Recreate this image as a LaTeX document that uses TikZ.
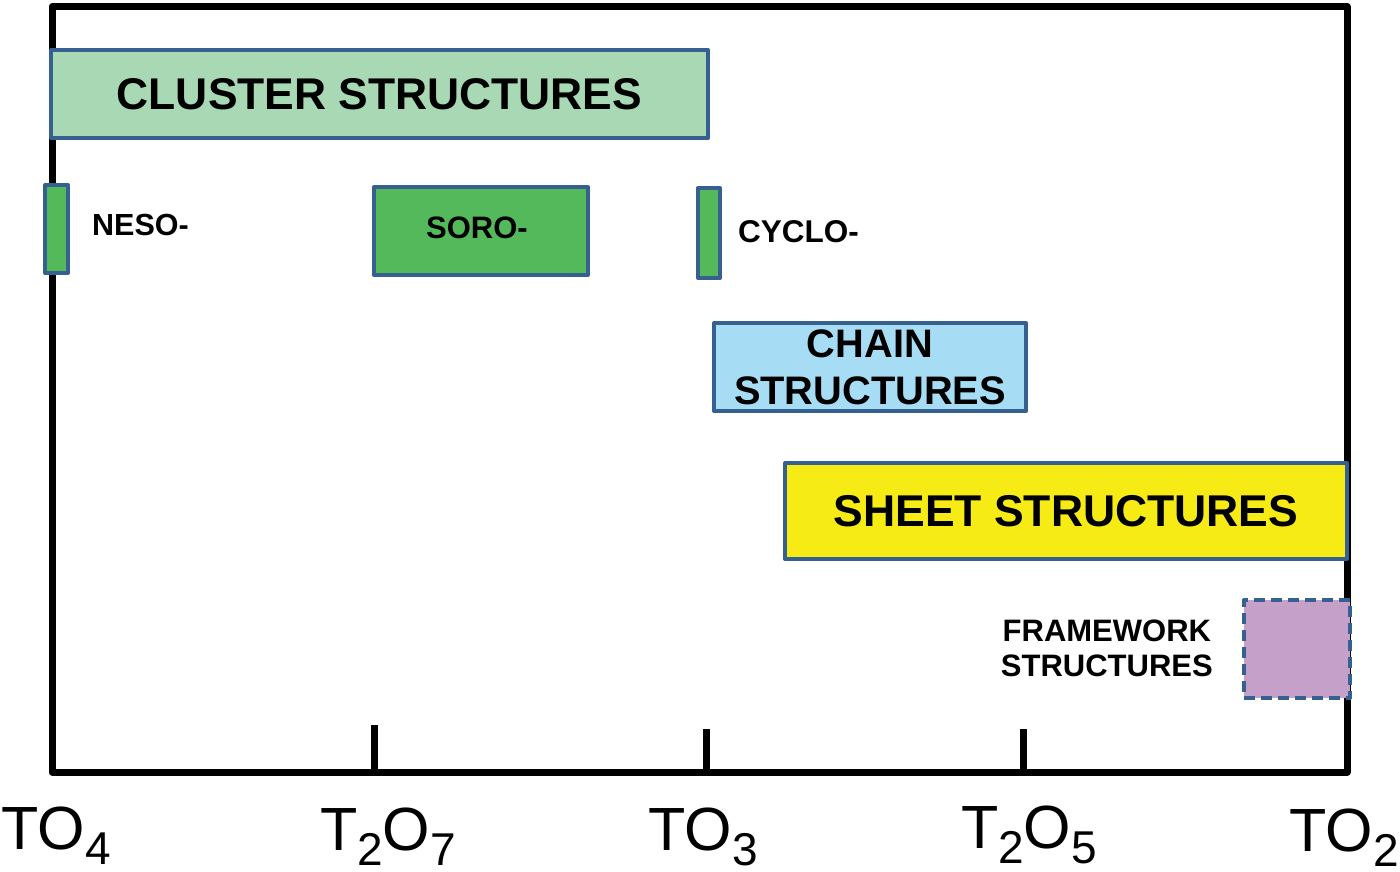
\documentclass[tikz,border=0pt]{standalone}
\usepackage{fontspec}
\setmainfont{Liberation Sans}
\definecolor{bordc}{HTML}{35608F}
\definecolor{clusterc}{HTML}{A8D9B4}
\definecolor{greenc}{HTML}{53B95A}
\definecolor{chainc}{HTML}{A6DDF5}
\definecolor{sheetc}{HTML}{F7EB15}
\definecolor{framec}{HTML}{C5A1CA}
\newcommand\fsz[2]{\fontsize{#1}{#2}\selectfont}
\newcommand\axlab[2]{#1\raisebox{-15pt}{\fsz{46}{50}#2}}
\begin{document}
\begin{tikzpicture}[x=1pt,y=-1pt,
  framestyle/.style={line width=7pt, black, line join=round},
  box/.style={draw=bordc, line width=4pt, rectangle, inner sep=0pt, anchor=north west, line join=round},
  lab/.style={inner sep=0pt, text=black},
  axis/.style={inner sep=0pt, anchor=base, font=\fsz{61}{70}}]
\useasboundingbox (0,0) rectangle (1400,871);
% frame and ticks
\draw[framestyle] (52,6.5) rectangle (1347,772);
\coordinate (t1b) at (374,772); \coordinate (t1t) at (374,725);
\coordinate (t2b) at (706,772); \coordinate (t2t) at (706,729);
\coordinate (t3b) at (1023,772); \coordinate (t3t) at (1023,729);
\draw[framestyle] (t1b) -- (t1t);
\draw[framestyle] (t2b) -- (t2t);
\draw[framestyle] (t3b) -- (t3t);
% boxes
\node[box, fill=clusterc, minimum width=657pt, minimum height=88pt, font=\bfseries\fsz{44.4}{50}] (cluster) at (49,48) {\raisebox{-1pt}{CLUSTER STRUCTURES}};
\node[box, fill=greenc, minimum width=23pt, minimum height=88pt] (neso) at (43,183) {};
\node[box, fill=greenc, minimum width=214pt, minimum height=88pt, font=\bfseries\fsz{31}{34}] (soro) at (372,185) {\raisebox{6pt}{\hspace*{-8pt}SORO-}};
\node[box, fill=greenc, minimum width=22pt, minimum height=90pt] (cyclo) at (696,186) {};
\node[box, fill=chainc, minimum width=312pt, minimum height=88pt, align=center, font=\bfseries\fsz{39.8}{47}] (chain) at (712,321) {CHAIN\\STRUCTURES};
\node[box, fill=sheetc, minimum width=562pt, minimum height=96pt, font=\bfseries\fsz{44.5}{50}] (sheet) at (783,461) {SHEET STRUCTURES};
\node[box, fill=framec, dashed, dash pattern=on 11pt off 6pt, minimum width=106pt, minimum height=98pt] (frm) at (1242,598) {};
% labels
\node[lab, anchor=base west, font=\bfseries\fsz{30.5}{34}] (nesol) at (92,235) {NESO-};
\node[lab, anchor=base west, font=\bfseries\fsz{31.5}{34}] (cyclol) at (738,242) {CYCLO-};
\node[lab, anchor=east, align=center, font=\bfseries\fsz{31}{35}] (frml) at (1213,648.5) {FRAMEWORK\\STRUCTURES};
% axis labels
\node[axis] (a1) at (56,849) {\axlab{TO}{4}};
\node[axis] (a2) at (388,850) {T\raisebox{-15pt}{\fsz{46}{50}2}\axlab{O}{7}};
\node[axis] (a3) at (703,850) {\axlab{TO}{3}};
\node[axis] (a4) at (1029,848) {T\raisebox{-15pt}{\fsz{46}{50}2}\axlab{O}{5}};
\node[axis] (a5) at (1344,851) {\axlab{TO}{2}};
\end{tikzpicture}
\end{document}
